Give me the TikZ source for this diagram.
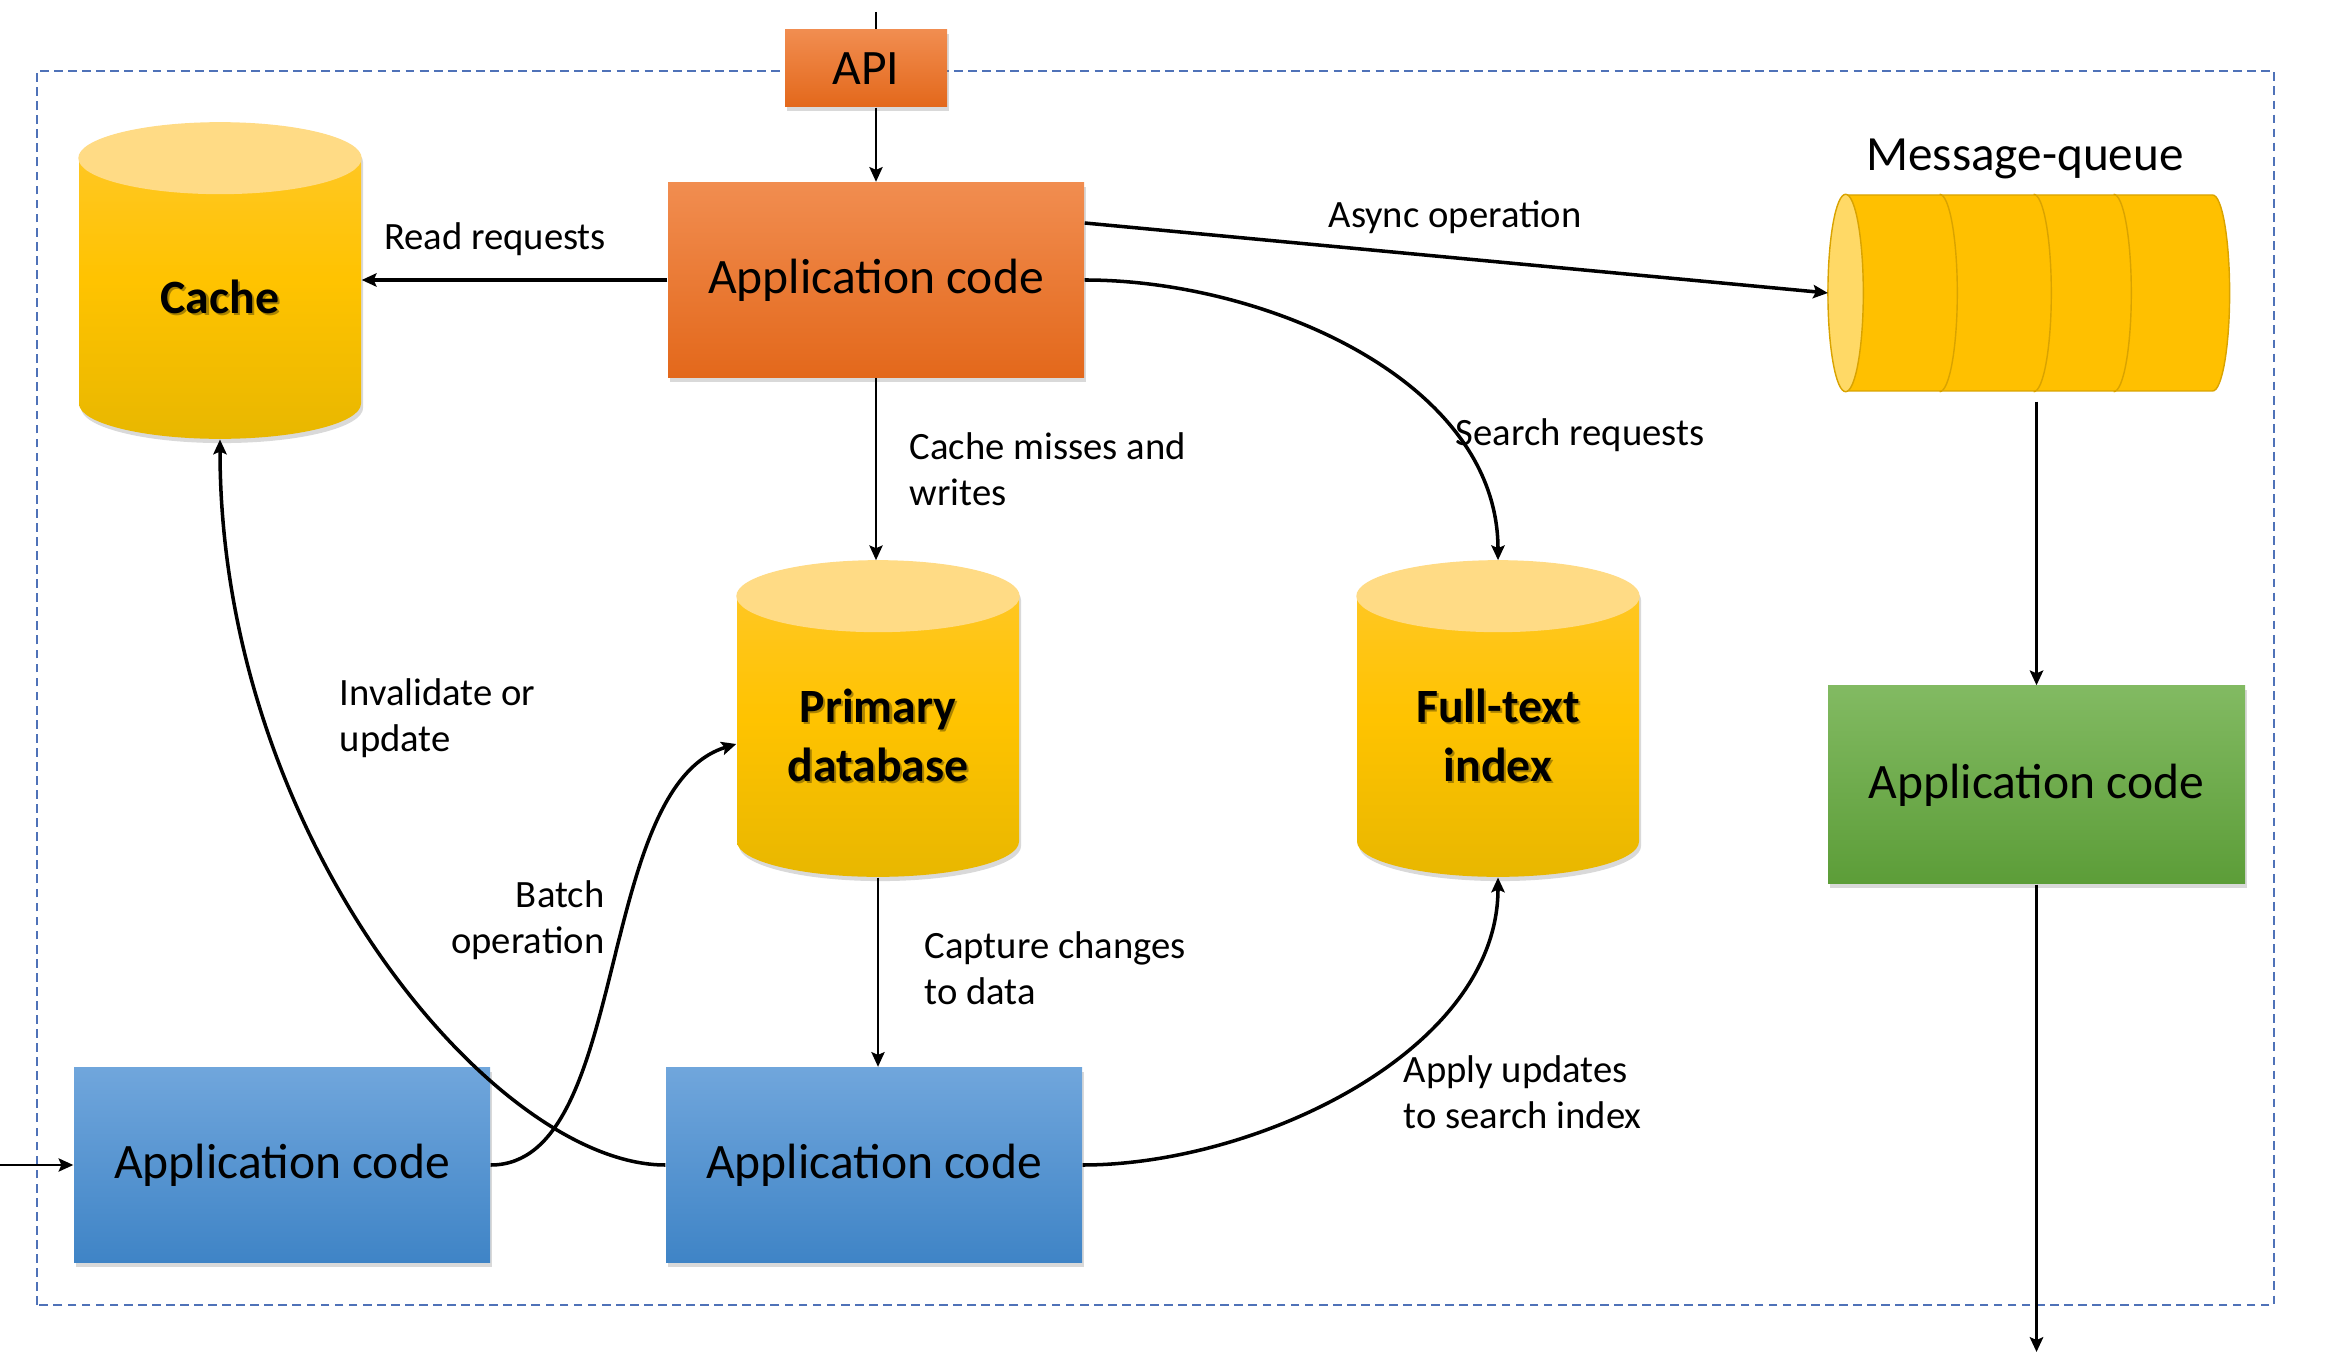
\documentclass[tikz,border=0pt]{standalone}
\usepackage{fontspec}
\setmainfont{Carlito}
\usepackage{tikz}
\usetikzlibrary{shapes.geometric, shadows, calc, arrows.meta}

\definecolor{orTop}{HTML}{F18D50}
\definecolor{orBot}{HTML}{E3681B}
\definecolor{blTop}{HTML}{70A6DC}
\definecolor{blBot}{HTML}{3F84C6}
\definecolor{grTop}{HTML}{82BA62}
\definecolor{grBot}{HTML}{5C9D38}
\definecolor{dbTop}{HTML}{FFC82C}
\definecolor{dbMid}{HTML}{FFC300}
\definecolor{dbBot}{HTML}{E8B700}
\definecolor{dbCap}{HTML}{FFDB85}
\definecolor{qFill}{HTML}{FFC000}
\definecolor{qEdge}{HTML}{D9A300}
\definecolor{qCap}{HTML}{FFD966}
\definecolor{frameBlue}{HTML}{4F72B8}

\tikzset{
  box/.style={rectangle, minimum width=4.16cm, minimum height=1.95cm,
    font=\fontsize{14.1}{16.5}\selectfont,
    drop shadow={opacity=0.3, shadow xshift=0.6pt, shadow yshift=-1.2pt}},
  orangebox/.style={box, top color=orTop, bottom color=orBot},
  bluebox/.style={box, top color=blTop, bottom color=blBot},
  greenbox/.style={box, top color=grTop, bottom color=grBot},
  db/.style={cylinder, shape border rotate=90, aspect=0.33,
    text width=1.9cm, inner sep=0.12cm,
    minimum width=2.82cm, minimum height=3.16cm,
    top color=dbTop, bottom color=dbBot, middle color=dbMid,
    drop shadow={opacity=0.3, shadow xshift=0.6pt, shadow yshift=-1.2pt}},
  dbtext/.style={align=center, inner sep=0pt, font=\fontsize{13.6}{16.8}\selectfont\bfseries},
  dblabel/.style 2 args={
    label={[dbtext, text=black!70!dbBot, opacity=0.45, xshift=0.6pt, yshift={#1-0.6pt}]center:#2},
    label={[dbtext, yshift=#1]center:#2}},
  lbl/.style={inner sep=0pt, font=\fontsize{11}{13}\selectfont},
  link/.style={->, line width=0.5pt},
  heavylink/.style={->, line width=1pt},
  frame/.style={draw=frameBlue, line width=0.6pt, dash pattern=on 2.5pt off 1.5pt},
}

\begin{document}
\begin{tikzpicture}[>={Stealth[length=4.2pt, width=3.8pt, inset=0.8pt]}]
  \useasboundingbox (0,0) rectangle (23.30,13.65);

  % system boundary
  \draw[frame] (0.37,0.60) rectangle (22.74,12.94);

  % nodes
  \node[orangebox, minimum width=1.62cm, minimum height=0.77cm] (api) at (8.66,12.965) {API};
  \node[orangebox] (app) at (8.76,10.85) {Application code};
  \node[db, dblabel={0.09cm}{Cache}] (cache) at (2.20,10.59) {};
  \node[db, dblabel={0.09cm}{Primary\\database}] (pdb) at (8.78,6.21) {};
  \node[db, dblabel={0.09cm}{Full-text\\index}] (fti) at (14.98,6.21) {};
  \node[cylinder, shape border rotate=180, aspect=1.44, inner sep=0.118cm,
        minimum width=1.96cm, minimum height=4.01cm,
        fill=qFill, draw=qEdge, line width=0.4pt] (mq) at (20.42,10.72) {};
  \node[font=\fontsize{14}{16}\selectfont] (mqname) at (20.25,12.06) {Message-queue};
  \node[greenbox, minimum width=4.17cm, minimum height=1.98cm] (green) at (20.365,5.80) {Application code};
  \node[bluebox] (blue1) at (2.82,2.00) {Application code};
  \node[bluebox] (blue2) at (8.74,2.00) {Application code};

  % cylinder lids
  \foreach \c in {cache, pdb, fti} {
    \fill[dbCap] let \p1=(\c.before top), \p2=(\c.after top), \p3=(\c.top) in
      ($(\p1)!0.5!(\p2)$) ellipse ({abs(\x2-\x1)/2} and {\y3-\y1});
  }

  % queue lid and slots
  \filldraw[fill=qCap, draw=qEdge, line width=0.4pt]
    let \p1=(mq.before top), \p2=(mq.after top), \p3=(mq.top) in
      ($(\p1)!0.5!(\p2)$) ellipse ({abs(\x1-\x3)} and {abs(\y2-\y1)/2});
  \foreach \dx in {0.94, 1.88, 2.68} {
    \draw[qEdge, line width=0.4pt]
      let \p1=(mq.before top), \p2=(mq.after top), \p3=(mq.top) in
        ($(\p1)!0.5!(\p2)+(\dx,{abs(\y2-\y1)/2})$)
        arc[start angle=90, end angle=-90, x radius={abs(\x1-\x3)}, y radius={abs(\y2-\y1)/2}];
  }

  % free ends
  \coordinate (apiin) at (8.76,13.53);
  \coordinate (feedin) at (0,2.00);
  \coordinate (gout) at (20.36,0.13);
  \coordinate (qout) at ($(mq.south -| green.north)+(0,-0.1)$);

  % connectors
  \draw[line width=0.5pt] (apiin) -- (apiin |- api.north);
  \draw[link] (api.south -| app.north) -- (app.north);
  \draw[heavylink] (app.west) -- (app.west -| cache.east);
  \draw[heavylink] ([yshift=0.57cm]app.east) -- (mq.west);
  \draw[heavylink] (app.east) to[out=0, in=90, looseness=0.92] (fti.north);
  \draw[link] (app.south) -- (app.south |- pdb.north);
  \draw[link] (pdb.south) -- (pdb.south |- blue2.north);
  \draw[heavylink] (qout) -- (green.north);
  \draw[heavylink] (green.south) -- (green.south |- gout);
  \draw[link] (feedin) -- (blue1.west);
  \draw[heavylink] (blue1.east) .. controls +(1.4,0) and +(-1.43,-0.44) .. (pdb.west);
  \draw[heavylink] (blue2.west) .. controls +(-1.7,0) and +(0,-4.0) .. (cache.south);
  \draw[heavylink] (blue2.east) to[out=0, in=-90, looseness=0.88] (fti.south);

  % labels
  \node[lbl] (readlbl) at (4.95,11.26) {Read requests};
  \node[lbl] (asynclbl) at (14.55,11.48) {Async operation};
  \node[lbl] (searchlbl) at (15.80,9.30) {Search requests};
  \node[lbl, anchor=west, align=left] (misslbl) at (9.09,8.96) {Cache misses and\\writes};
  \node[lbl, anchor=west, align=left] (invlbl) at (3.39,6.47) {Invalidate or\\update};
  \node[lbl, anchor=east, align=right] (batchlbl) at (6.05,4.45) {Batch\\operation};
  \node[lbl, anchor=west, align=left] (cdclbl) at (9.24,3.97) {Capture changes\\to data};
  \node[lbl, anchor=west, align=left] (applylbl) at (14.03,2.73) {Apply updates\\to search index};
\end{tikzpicture}
\end{document}
